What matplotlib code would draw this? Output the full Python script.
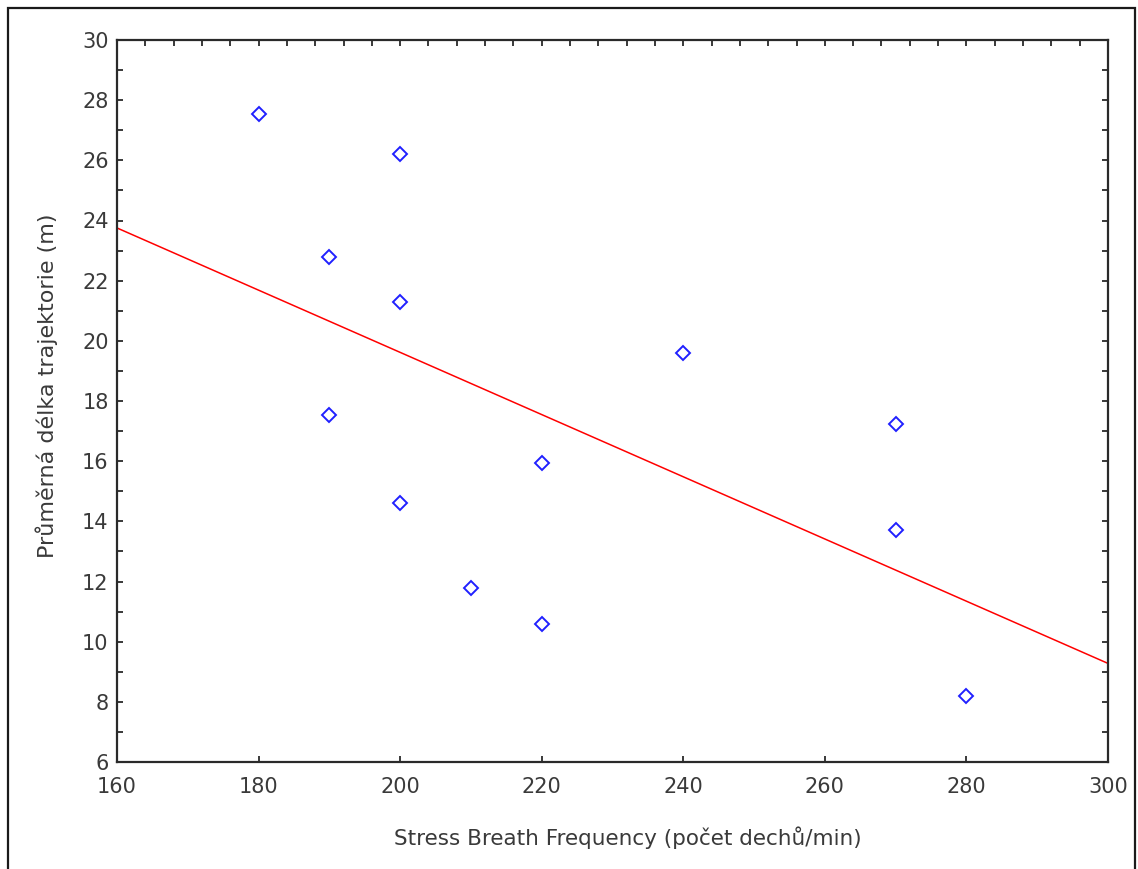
import numpy as np
import matplotlib
matplotlib.use("Agg")
import matplotlib.pyplot as plt
from matplotlib.ticker import MultipleLocator, NullFormatter
from matplotlib.patches import Rectangle

# Data
breath_freq = [180, 200, 190, 200, 240, 190, 270, 220, 200, 270, 210, 220, 280]
traj_length = [27.55, 26.2, 22.8, 21.3, 19.6, 17.55, 17.25, 15.95, 14.6, 13.7, 11.8, 10.6, 8.2]
x_label = "Stress Breath Frequency (počet dechů/min)"
y_label = "Průměrná délka trajektorie (m)"

W, H = 1138, 869
fig = plt.figure(figsize=(W / 100, H / 100), dpi=100)
fig.patch.set_facecolor("white")

# outer frame
fig.patches.append(Rectangle((8 / W, -0.01), (1135 - 8) / W, 1.01 - 8 / H,
                             transform=fig.transFigure, fill=False,
                             edgecolor="#1a1a1a", linewidth=1.6))

ax = fig.add_axes([117 / W, 1 - 762 / H, (1108 - 117) / W, (762 - 40) / H])

x = np.array(breath_freq, dtype=float)
y = np.array(traj_length, dtype=float)
slope, intercept = np.polyfit(x, y, 1)
xl = np.array([160.0, 300.0])
ax.plot(xl, intercept + slope * xl, color="#ff0000", linewidth=1.1, zorder=2)
ax.plot(x, y, linestyle="none", marker="D", markersize=7.5, markerfacecolor="none",
        markeredgecolor="#2020ff", markeredgewidth=1.4, zorder=3)

ax.set_xlim(160, 300)
ax.set_ylim(6, 30)
ax.xaxis.set_major_locator(MultipleLocator(20))
ax.yaxis.set_major_locator(MultipleLocator(2))
ax.yaxis.set_minor_locator(MultipleLocator(1))

spine_col = "#2a2a2a"
for s in ax.spines.values():
    s.set_color(spine_col)
    s.set_linewidth(1.6)

tick_col = "#3a3a3a"
ax.tick_params(axis="both", which="both", direction="in", length=4, width=1.3,
               color=spine_col, labelcolor=tick_col, labelsize=15, pad=6)
ax.tick_params(axis="x", which="major", pad=11)
ax.tick_params(axis="y", which="minor", length=4)

sec_x = ax.secondary_xaxis("top")
sec_x.xaxis.set_major_locator(MultipleLocator(4))
sec_x.xaxis.set_major_formatter(NullFormatter())
sec_x.tick_params(direction="in", length=4, width=1.3, color=spine_col)
sec_x.spines["top"].set_visible(False)

sec_y = ax.secondary_yaxis("right")
sec_y.yaxis.set_major_locator(MultipleLocator(1))
sec_y.yaxis.set_major_formatter(NullFormatter())
sec_y.tick_params(direction="in", length=4, width=1.3, color=spine_col)
sec_y.spines["right"].set_visible(False)

fig.text(628 / W, 1 - 838 / H, x_label, ha="center", va="center",
         fontsize=15.5, color="#3a3a3a", family="DejaVu Sans")
fig.text(47 / W, 1 - 386 / H, y_label, ha="center", va="center", rotation=90,
         fontsize=16, color="#3a3a3a", family="DejaVu Sans")

fig.savefig("out.png", dpi=100, facecolor="white")
